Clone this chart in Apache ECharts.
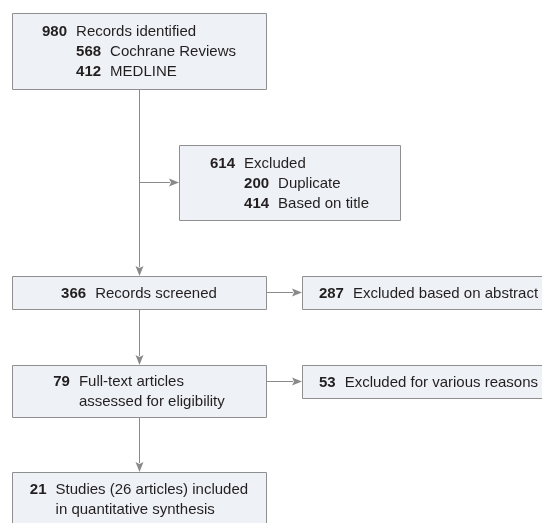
<!DOCTYPE html>
<html>
<head>
<meta charset="utf-8">
<title>Study selection</title>
<script src="https://cdn.jsdelivr.net/npm/echarts@6/dist/echarts.min.js"></script>
<style>
html,body{margin:0;padding:0;background:#fff}
#main{width:542px;height:523px}
</style>
</head>
<body>
<div id="main"></div>
<script>
// flow data
const stageCounts = [980, 614, 366, 287, 79, 53, 21];
const stageLabels = [
  'Records identified',
  'Excluded',
  'Records screened',
  'Excluded based on abstract',
  'Full-text articles\nassessed for eligibility',
  'Excluded for various reasons',
  'Studies (26 articles) included\nin quantitative synthesis'
];
const subCounts = [[568, 412], [200, 414], [], [], [], [], []];
const subLabels = [['Cochrane Reviews', 'MEDLINE'], ['Duplicate', 'Based on title'], [], [], [], [], []];
const links = [[0, 1], [0, 2], [2, 3], [2, 4], [4, 5], [4, 6]];

// box placement (layout units = px of the 542x523 canvas)
const boxLayout = [
  [12, 13, 266, 89],
  [179, 145, 400, 220],
  [12, 276, 266, 309],
  [302, 276, 555, 309],
  [12, 365, 266, 417],
  [302, 365, 555, 398],
  [12, 472, 266, 526]
];

var FONT = '"Liberation Sans", Arial, sans-serif';
var textColor = '#231f20';
var lineColor = '#8a8a8a';

var richStyle = {
  n: { fontFamily: FONT, fontSize: 15, fontWeight: 'bold', fill: textColor, lineHeight: 20, align: 'left', padding: [0, 9, 0, 0] },
  h: { fontFamily: FONT, fontSize: 15, fontWeight: 'bold', fill: 'rgba(0,0,0,0)', lineHeight: 20, align: 'left', padding: [0, 9, 0, 0] },
  t: { fontFamily: FONT, fontSize: 15, fontWeight: 'normal', fill: textColor, lineHeight: 20, align: 'left' }
};

function boxText(i) {
  var parts = stageLabels[i].split('\n');
  var lines = [];
  parts.forEach(function (p, k) {
    lines.push((k === 0 ? '{n|' : '{h|') + stageCounts[i] + '}{t|' + p + '}');
  });
  subCounts[i].forEach(function (c, k) {
    lines.push('{h|' + stageCounts[i] + '}{n|' + c + '}{t|' + subLabels[i][k] + '}');
  });
  return lines.join('\n');
}

function linkPoints(s, t) {
  var a = boxLayout[s], b = boxLayout[t];
  var cx = (a[0] + a[2]) / 2 + 0.5;
  var my = (b[1] + b[3]) / 2;
  if (b[0] >= a[2]) return [[a[2], my], [b[0], my]];
  if (b[0] > cx) return [[cx, my], [b[0], my]];
  return [[cx, a[3]], [cx, b[1]]];
}

var chart = echarts.init(document.getElementById('main'), null, { renderer: 'canvas' });

const option = {
  animation: false,
  backgroundColor: '#fff',
  grid: { left: 0, right: 0, top: 0, bottom: 0 },
  xAxis: { type: 'value', min: 0, max: 542, show: false },
  yAxis: { type: 'value', min: 0, max: 523, inverse: true, show: false },
  series: [
    {
      type: 'custom',
      name: 'links',
      coordinateSystem: 'cartesian2d',
      clip: false,
      silent: true,
      data: links.map(function (l) { return [l[0], l[1]]; }),
      renderItem: function (params, api) {
        var pts = linkPoints(api.value(0), api.value(1));
        var p0 = api.coord(pts[0]);
        var p1 = api.coord(pts[1]);
        var dx = p1[0] - p0[0], dy = p1[1] - p0[1];
        var len = Math.sqrt(dx * dx + dy * dy);
        var ux = dx / len, uy = dy / len;
        var hl = 10, hw = 4;
        var bx = p1[0] - ux * hl, by = p1[1] - uy * hl;
        return {
          type: 'group',
          children: [
            {
              type: 'line',
              shape: { x1: p0[0], y1: p0[1], x2: bx + ux, y2: by + uy },
              style: { stroke: lineColor, lineWidth: 1 }
            },
            {
              type: 'polygon',
              shape: { points: [[p1[0], p1[1]], [bx - uy * hw, by + ux * hw], [bx + ux * 2, by + uy * 2], [bx + uy * hw, by - ux * hw]] },
              style: { fill: lineColor }
            }
          ]
        };
      }
    },
    {
      type: 'custom',
      name: 'boxes',
      coordinateSystem: 'cartesian2d',
      clip: false,
      silent: true,
      data: boxLayout.map(function (b, i) { return [b[0], b[1], b[2], b[3], i]; }),
      renderItem: function (params, api) {
        var p0 = api.coord([api.value(0), api.value(1)]);
        var p1 = api.coord([api.value(2), api.value(3)]);
        var i = api.value(4);
        return {
          type: 'group',
          children: [
            {
              type: 'rect',
              shape: { x: p0[0] + 0.5, y: p0[1] + 0.5, width: p1[0] - p0[0], height: p1[1] - p0[1] },
              style: { fill: '#eef1f5', stroke: '#8f8f8f', lineWidth: 1 }
            },
            {
              type: 'text',
              style: {
                x: (p0[0] + p1[0]) / 2,
                y: (p0[1] + p1[1]) / 2 + 1,
                text: boxText(i),
                rich: richStyle,
                align: 'center',
                verticalAlign: 'middle',
                fontFamily: FONT,
                fontSize: 15,
                fill: textColor
              }
            }
          ]
        };
      }
    }
  ]
};

chart.setOption(option, true);
</script>
</body>
</html>
